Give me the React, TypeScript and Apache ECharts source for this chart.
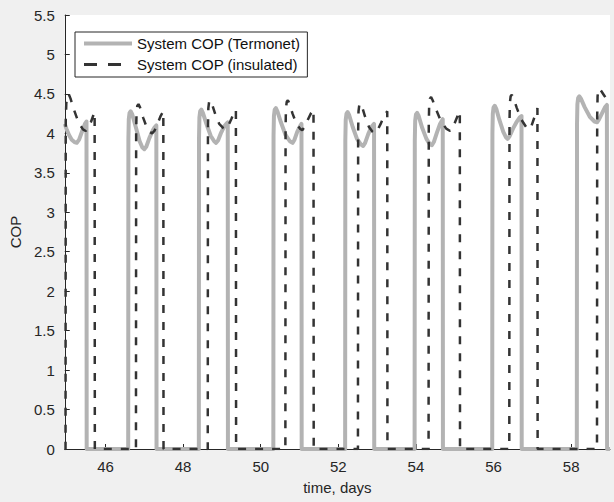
import React, { useEffect, useRef } from "react";
import * as echarts from "echarts";

const FONT = '"Liberation Sans", Arial, Helvetica, sans-serif';

const seriesNames = ["System COP (Termonet)", "System COP (insulated)"];

// [time (days), COP]
const termonet: [number, number][] = [
  [44.95, 4.12], [45.0, 4.05], [45.06, 3.98], [45.13, 3.92], [45.2, 3.89], [45.26, 3.88], [45.32, 3.92], [45.4, 4.03], [45.47, 4.12], [45.51, 4.15], [45.515, 0],
  [46.585, 0], [46.59, 3.93], [46.6, 4.18], [46.62, 4.26], [46.65, 4.28], [46.69, 4.24], [46.78, 4.08], [46.88, 3.9], [46.95, 3.82], [47.0, 3.8], [47.05, 3.83], [47.13, 3.94], [47.22, 4.04], [47.27, 4.08], [47.31, 4.1], [47.315, 0],
  [48.405, 0], [48.41, 3.95], [48.42, 4.2], [48.44, 4.28], [48.47, 4.3], [48.51, 4.26], [48.6, 4.12], [48.71, 3.97], [48.8, 3.9], [48.85, 3.88], [48.9, 3.91], [48.98, 4.01], [49.06, 4.09], [49.11, 4.12], [49.15, 4.14], [49.155, 0],
  [50.325, 0], [50.33, 3.97], [50.34, 4.22], [50.36, 4.3], [50.39, 4.32], [50.43, 4.28], [50.52, 4.14], [50.64, 3.98], [50.75, 3.9], [50.82, 3.88], [50.87, 3.92], [50.94, 4.02], [51.0, 4.08], [51.05, 4.12], [51.055, 0],
  [52.175, 0], [52.18, 3.92], [52.19, 4.17], [52.21, 4.25], [52.24, 4.27], [52.28, 4.23], [52.37, 4.08], [52.48, 3.93], [52.58, 3.86], [52.64, 3.84], [52.69, 3.88], [52.77, 3.99], [52.85, 4.08], [52.92, 4.12], [52.925, 0],
  [53.965, 0], [53.97, 3.91], [53.98, 4.16], [54.0, 4.24], [54.03, 4.26], [54.07, 4.22], [54.16, 4.07], [54.27, 3.93], [54.36, 3.86], [54.41, 3.85], [54.46, 3.89], [54.54, 4.01], [54.62, 4.12], [54.69, 4.18], [54.695, 0],
  [55.965, 0], [55.97, 4.0], [55.98, 4.25], [56.0, 4.33], [56.03, 4.35], [56.07, 4.31], [56.15, 4.17], [56.25, 4.02], [56.32, 3.95], [56.36, 3.93], [56.41, 3.96], [56.5, 4.06], [56.6, 4.15], [56.67, 4.2], [56.72, 4.22], [56.725, 0],
  [58.145, 0], [58.15, 4.12], [58.16, 4.37], [58.18, 4.45], [58.21, 4.47], [58.25, 4.44], [58.35, 4.33], [58.48, 4.21], [58.6, 4.15], [58.67, 4.14], [58.72, 4.18], [58.8, 4.26], [58.87, 4.33], [58.92, 4.36], [58.925, 0], [59.0, 0],
];

const insulated: [number, number][] = [
  [44.95, 0], [44.97, 0], [44.975, 4.15], [44.99, 4.38], [45.02, 4.48], [45.05, 4.5], [45.1, 4.44], [45.18, 4.31], [45.26, 4.2], [45.34, 4.11], [45.42, 4.05], [45.49, 4.03], [45.56, 4.07], [45.63, 4.15], [45.68, 4.22], [45.72, 4.27], [45.725, 0],
  [46.785, 0], [46.79, 4.02], [46.8, 4.27], [46.82, 4.35], [46.85, 4.37], [46.89, 4.33], [46.97, 4.2], [47.06, 4.08], [47.14, 4.02], [47.2, 4.0], [47.26, 4.03], [47.34, 4.12], [47.42, 4.22], [47.49, 4.28], [47.495, 0],
  [48.635, 0], [48.64, 4.07], [48.65, 4.32], [48.67, 4.4], [48.7, 4.42], [48.74, 4.38], [48.83, 4.24], [48.93, 4.12], [49.03, 4.07], [49.1, 4.05], [49.16, 4.09], [49.24, 4.18], [49.31, 4.26], [49.36, 4.3], [49.365, 0],
  [50.635, 0], [50.64, 4.07], [50.65, 4.32], [50.67, 4.4], [50.7, 4.42], [50.74, 4.38], [50.82, 4.25], [50.92, 4.12], [51.01, 4.06], [51.07, 4.04], [51.13, 4.08], [51.21, 4.17], [51.3, 4.26], [51.36, 4.3], [51.365, 0],
  [52.505, 0], [52.51, 4.03], [52.52, 4.28], [52.54, 4.36], [52.57, 4.38], [52.61, 4.34], [52.69, 4.21], [52.79, 4.08], [52.88, 4.02], [52.94, 4.0], [53.0, 4.03], [53.09, 4.12], [53.18, 4.22], [53.26, 4.28], [53.265, 0],
  [54.325, 0], [54.33, 4.11], [54.34, 4.36], [54.36, 4.44], [54.39, 4.46], [54.43, 4.42], [54.52, 4.3], [54.64, 4.16], [54.78, 4.06], [54.88, 4.03], [54.95, 4.07], [55.03, 4.17], [55.09, 4.24], [55.13, 4.28], [55.135, 0],
  [56.405, 0], [56.41, 4.14], [56.42, 4.39], [56.44, 4.47], [56.47, 4.49], [56.51, 4.45], [56.6, 4.32], [56.72, 4.17], [56.84, 4.08], [56.92, 4.05], [56.98, 4.1], [57.05, 4.2], [57.1, 4.28], [57.13, 4.32], [57.135, 0],
  [58.665, 0], [58.67, 4.22], [58.68, 4.47], [58.7, 4.55], [58.73, 4.57], [58.77, 4.54], [58.85, 4.48], [58.93, 4.42], [59.0, 4.38],
];

const xRange = [44.95, 59];
const yRange = [0, 5.5];

export default function App() {
  const ref = useRef<HTMLDivElement>(null);
  useEffect(() => {
    if (!ref.current) return;
    const chart = echarts.init(ref.current, null, { renderer: "svg" });
    const axisColor = "#262626";
    chart.setOption({
      animation: false,
      backgroundColor: "#f0f0f0",
      textStyle: { fontFamily: FONT },
      grid: {
        left: 63,
        top: 15,
        width: 547,
        height: 434,
        show: true,
        backgroundColor: "#ffffff",
        borderWidth: 0,
      },
      legend: {
        orient: "vertical",
        left: 75,
        top: 32,
        itemWidth: 48,
        itemHeight: 14,
        itemGap: 6,
        padding: [4, 7, 5, 7],
        backgroundColor: "#ffffff",
        borderColor: axisColor,
        borderWidth: 1,
        borderRadius: 0,
        textStyle: { fontSize: 15, color: "#111", fontFamily: FONT },
        itemStyle: { opacity: 0 },
        data: [
          { name: seriesNames[0], itemStyle: { opacity: 0 }, lineStyle: { width: 4, color: "#b3b3b3", type: "solid" } },
          { name: seriesNames[1], itemStyle: { opacity: 0 }, lineStyle: { width: 3, color: "#333333", type: [13, 11] } },
        ],
      },
      xAxis: {
        type: "value",
        min: xRange[0],
        max: xRange[1],
        splitNumber: 7,
        name: "time, days",
        nameLocation: "middle",
        nameGap: 31,
        nameTextStyle: { fontSize: 15, color: axisColor, fontFamily: FONT },
        axisLine: { show: true, onZero: false, lineStyle: { color: axisColor, width: 1 } },
        axisTick: { show: true, inside: true, length: 5, lineStyle: { color: axisColor } },
        axisLabel: {
          showMinLabel: false,
          showMaxLabel: false,
          margin: 10,
          fontSize: 15,
          color: axisColor,
          fontFamily: FONT,
          formatter: (v: number) => (Number.isInteger(v) ? String(v) : ""),
        },
        splitLine: { show: false },
      },
      yAxis: {
        type: "value",
        min: yRange[0],
        max: yRange[1],
        interval: 0.5,
        name: "COP",
        nameLocation: "middle",
        nameGap: 38,
        nameTextStyle: { fontSize: 15, color: axisColor, fontFamily: FONT },
        axisLine: { show: true, lineStyle: { color: axisColor, width: 1 } },
        axisTick: { show: true, inside: true, length: 5, lineStyle: { color: axisColor } },
        axisLabel: { margin: 10, fontSize: 15, color: axisColor, fontFamily: FONT },
        splitLine: { show: false },
      },
      series: [
        {
          name: seriesNames[0],
          type: "line",
          data: termonet,
          symbol: "none",
          showSymbol: false,
          lineStyle: { width: 4, color: "#b3b3b3", join: "round" },
          itemStyle: { color: "#b3b3b3" },
          z: 2,
        },
        {
          name: seriesNames[1],
          type: "line",
          data: insulated,
          symbol: "none",
          showSymbol: false,
          lineStyle: { width: 2.5, color: "#333333", type: [8, 9] },
          itemStyle: { color: "#333333" },
          z: 3,
        },
      ],
    });
    return () => chart.dispose();
  }, []);
  return (
    <div
      ref={ref}
      style={{ position: "fixed", left: 0, top: 0, width: 614, height: 502 }}
    />
  );
}
